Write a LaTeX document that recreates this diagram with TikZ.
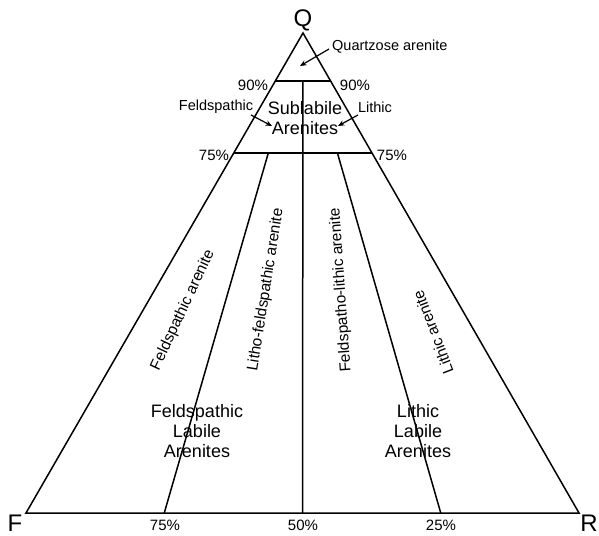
\documentclass[tikz,border=0pt]{standalone}
\usepackage{fontspec}
\setmainfont{Liberation Sans}
\usetikzlibrary{calc,arrows.meta}
\begin{document}
\begin{tikzpicture}[x=1pt,y=1pt,
  edge/.style={line width=1.5pt,black},
  ptr/.style={line width=1.2pt,-{Stealth[length=6.5pt,width=5.5pt]}},
  big/.style={font=\fontsize{18}{20}\selectfont,align=center,inner sep=0pt},
  small/.style={font=\fontsize{14.5}{16}\selectfont,inner sep=0pt},
  rot/.style={font=\fontsize{15.5}{17}\selectfont,inner sep=0pt},
  pct/.style={font=\fontsize{15}{17}\selectfont,inner sep=0pt},
  corner/.style={font=\fontsize{24}{26}\selectfont,inner sep=0pt}]
\useasboundingbox (0,0) rectangle (599,535);
% corners
\coordinate (Q) at (303,502);
\coordinate (F) at (26,22);
\coordinate (R) at (579,22);
\coordinate (b75) at ($(F)!0.25!(R)$);
\coordinate (b50) at ($(F)!0.5!(R)$);
\coordinate (b25) at ($(F)!0.75!(R)$);
\coordinate (l90) at ($(Q)!0.1!(F)$);
\coordinate (r90) at ($(Q)!0.1!(R)$);
\coordinate (l75) at ($(Q)!0.25!(F)$);
\coordinate (r75) at ($(Q)!0.25!(R)$);
\coordinate (m90) at ($(l90)!0.5!(r90)$);
\coordinate (s75) at ($(Q)!0.25!(b75)$);
\coordinate (s25) at ($(Q)!0.25!(b25)$);
% triangle
\draw[edge,line join=miter] (Q) -- (F) -- (R) -- cycle;
\draw[edge] (l90) -- (r90);
\draw[edge] (l75) -- (r75);
\draw[edge] (m90) -- (b50);
\draw[edge] (s75) -- (b75);
\draw[edge] (s25) -- (b25);
% corner labels
\node[corner] (nQ) at (303,515) {Q};
\node[corner] (nF) at (15,12) {F};
\node[corner] (nR) at (589,12) {R};
% percentages
\node[pct] (p75b) at (165,10) {75\%};
\node[pct] (p50b) at (303,10) {50\%};
\node[pct] (p25b) at (441,10) {25\%};
\node[pct] (p90l) at (253,450) {90\%};
\node[pct] (p90r) at (355,450) {90\%};
\node[pct] (p75l) at (214,380) {75\%};
\node[pct] (p75r) at (392,380) {75\%};
% top labels
\node[small,anchor=west] (qa) at (332,488) {Quartzose arenite};
\coordinate (qtip) at (300,469);
\draw[ptr] (qa.west) ++(-3,-2) coordinate (qs) -- (qtip);
\node[small] (fs) at (216,428) {Feldspathic};
\node[small] (li) at (375,428) {Lithic};
\coordinate (ftip) at (272,409);
\coordinate (ltip) at (338,409);
\coordinate (fst) at (251,420);
\coordinate (lst) at (358,420);
\draw[ptr] (fst) -- (ftip);
\draw[ptr] (lst) -- (ltip);
\node[big] (sub) at (305,417) {Sublabile\\Arenites};
% rotated labels
\node[rot,rotate=65] (fa) at (183,225) {Feldspathic arenite};
\node[rot,rotate=81] (lfa) at (266,245) {Litho-feldspathic arenite};
\node[rot,rotate=94] (fla) at (341,245) {Feldspatho-lithic arenite};
\node[rot,rotate=111] (la) at (433,203) {Lithic arenite};
% big bottom labels
\node[big] (fla2) at (197,104) {Feldspathic\\Labile\\Arenites};
\node[big] (lla) at (418,104) {Lithic\\Labile\\Arenites};
\end{tikzpicture}
\end{document}
